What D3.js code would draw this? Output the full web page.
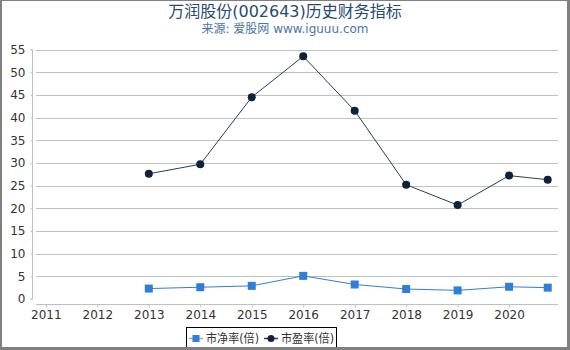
<!DOCTYPE html>
<html><head><meta charset="utf-8">
<script src="https://cdn.jsdelivr.net/npm/d3@7"></script>
<style>
body{margin:0;padding:0;background:#fff;}
svg{display:block;font-family:"DejaVu Sans","Noto Sans CJK SC",sans-serif;}
</style></head>
<body><svg id="c" width="570" height="350"></svg>
<script>
const years = [2013, 2014, 2015, 2016, 2017, 2018, 2019, 2020, 2020.75];
const pb = [2.3, 2.6, 2.9, 5.1, 3.2, 2.2, 1.9, 2.7, 2.5];
const pe = [27.6, 29.7, 44.5, 53.5, 41.5, 25.2, 20.7, 27.2, 26.3];
const xTicks = [2011, 2012, 2013, 2014, 2015, 2016, 2017, 2018, 2019, 2020];
const yTicks = [0, 5, 10, 15, 20, 25, 30, 35, 40, 45, 50, 55];
const seriesNames = ["市净率(倍)", "市盈率(倍)"];
const colors = ["#2f7ed8", "#0d233a"];
const title = "万润股份(002643)历史财务指标";
const subtitle = "来源: 爱股网 www.iguuu.com";

const svg = d3.select("#c");
const x = d3.scaleLinear().domain([2010.75, 2020.95]).range([33, 558]);
const y = d3.scaleLinear().domain([0, 55]).range([299, 49.5]);

// frame
svg.append("rect").attr("x", 0.5).attr("y", 0.5).attr("width", 567.5).attr("height", 347)
  .attr("fill", "none").attr("stroke", "#808080").attr("stroke-width", 1);
svg.append("rect").attr("x", 567).attr("y", 0).attr("width", 3).attr("height", 350).attr("fill", "#808080");
svg.append("rect").attr("x", 0).attr("y", 0).attr("width", 2).attr("height", 350).attr("fill", "#808080");

// titles
svg.append("text").attr("x", 285).attr("y", 17).attr("text-anchor", "middle")
  .attr("font-size", 16).attr("fill", "#274b6d").text(title);
svg.append("text").attr("x", 285).attr("y", 33).attr("text-anchor", "middle")
  .attr("font-size", 12).attr("fill", "#4d759e").text(subtitle);

// gridlines
svg.append("g").selectAll("line").data(yTicks.slice(1)).join("line")
  .attr("x1", 36).attr("x2", 558)
  .attr("y1", d => Math.round(y(d)) + 0.5).attr("y2", d => Math.round(y(d)) + 0.5)
  .attr("stroke", "#c0c0c0").attr("stroke-width", 1);

// y axis
const yAxis = d3.axisLeft(y).tickValues(yTicks).tickSize(2).tickPadding(5);
const gy = svg.append("g").attr("transform", "translate(32.5,0)").call(yAxis);
gy.select(".domain").attr("stroke", "#c0c0c0").attr("d", "M-2," + (y(55)) + "H0V" + (y(0)) + "H-2");
gy.selectAll(".tick line").attr("stroke", "#c0c0c0");
gy.selectAll("text").attr("font-size", 12).attr("fill", "#333").attr("font-family", "DejaVu Sans");

// x axis
const xAxis = d3.axisBottom(x).tickValues(xTicks).tickFormat(d3.format("d")).tickSize(3).tickPadding(3);
const gx = svg.append("g").attr("transform", "translate(0,304.5)").call(xAxis);
gx.select(".domain").attr("stroke", "#c0c0c0").attr("d", "M36,0H558");
gx.selectAll(".tick line").attr("stroke", "#c0c0c0");
gx.selectAll("text").attr("font-size", 12).attr("fill", "#333").attr("font-family", "DejaVu Sans");

const line = d3.line().x(d => x(d[0])).y(d => y(d[1]));

// PB series
const pbData = years.map((yr, i) => [yr, pb[i]]);
svg.append("path").datum(pbData).attr("d", line).attr("fill", "none")
  .attr("stroke", colors[0]).attr("stroke-width", 1);
svg.append("g").selectAll("rect").data(pbData).join("rect")
  .attr("x", d => x(d[0]) - 4).attr("y", d => y(d[1]) - 4).attr("width", 8).attr("height", 8)
  .attr("fill", colors[0]);

// PE series
const peData = years.map((yr, i) => [yr, pe[i]]);
svg.append("path").datum(peData).attr("d", line).attr("fill", "none")
  .attr("stroke", "#2c3e55").attr("stroke-width", 1);
svg.append("g").selectAll("circle").data(peData).join("circle")
  .attr("cx", d => x(d[0])).attr("cy", d => y(d[1])).attr("r", 4)
  .attr("fill", colors[1]);

// legend
const lg = svg.append("g");
lg.append("rect").attr("x", 186.5).attr("y", 327.5).attr("width", 150).attr("height", 22)
  .attr("fill", "#fff").attr("stroke", "#000").attr("stroke-width", 1);
const items = [{x: 189, c: colors[0], shape: "sq", lc: "#7fb0ea"}, {x: 264, c: colors[1], shape: "ci", lc: "#2c3e55"}];
items.forEach((it, i) => {
  lg.append("line").attr("x1", it.x).attr("x2", it.x + 14).attr("y1", 338.5).attr("y2", 338.5)
    .attr("stroke", it.lc).attr("stroke-width", 1.5);
  if (it.shape === "sq") {
    lg.append("rect").attr("x", it.x + 3.5).attr("y", 335).attr("width", 7).attr("height", 7).attr("fill", it.c);
  } else {
    lg.append("circle").attr("cx", it.x + 7).attr("cy", 338.5).attr("r", 3.5).attr("fill", it.c);
  }
  lg.append("text").attr("x", it.x + 17).attr("y", 343).attr("font-size", 12).attr("fill", "#333")
    .attr("textLength", 53).attr("lengthAdjust", "spacingAndGlyphs")
    .text(seriesNames[i]);
});
// bottom frame edge
svg.append("rect").attr("x", 0).attr("y", 347).attr("width", 570).attr("height", 3).attr("fill", "#808080");
</script></body></html>
